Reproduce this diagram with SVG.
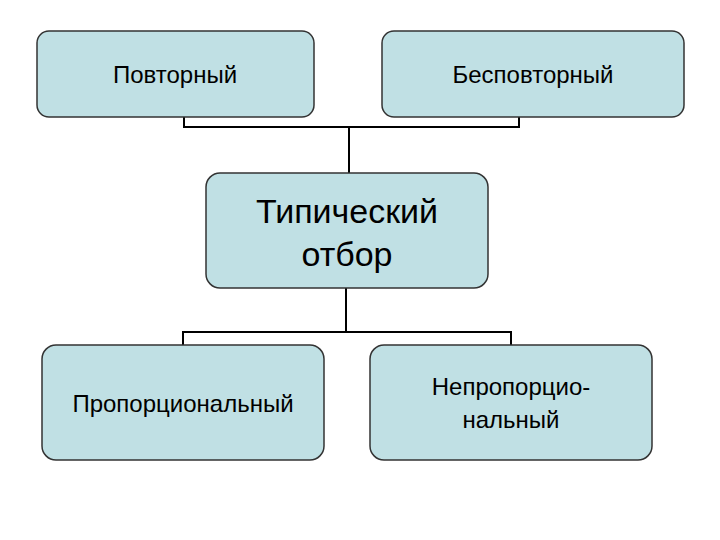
<svg xmlns="http://www.w3.org/2000/svg" width="720" height="540" viewBox="0 0 720 540">
<style>
.b{fill:#c0e0e4;stroke:#333;stroke-width:1.5}
.t{font-family:"Liberation Sans",Arial,sans-serif;fill:#000;text-anchor:middle}
.c{fill:none;stroke:#000;stroke-width:2}
</style>
<rect width="720" height="540" fill="#fff"/>
<g id="connectors">
<path class="c" d="M184 117V127H519V117M349 127V173"/>
<path class="c" d="M346 288V332M183 345V332H511V345"/>
</g>
<g id="n1"><rect class="b" x="37" y="31" width="277" height="86" rx="12"/><text class="t" x="175" y="83" font-size="24">Повторный</text></g>
<g id="n2"><rect class="b" x="382" y="31" width="302" height="86" rx="12"/><text class="t" x="533" y="83" font-size="24">Бесповторный</text></g>
<g id="n3"><rect class="b" x="206" y="173" width="282" height="115" rx="14"/><text class="t" x="347" y="223" font-size="34">Типический</text><text class="t" x="347" y="266" font-size="34">отбор</text></g>
<g id="n4"><rect class="b" x="42" y="345" width="282" height="115" rx="14"/><text class="t" x="183" y="412" font-size="24">Пропорциональный</text></g>
<g id="n5"><rect class="b" x="370" y="345" width="282" height="115" rx="14"/><text class="t" x="511" y="395" font-size="24">Непропорцио-</text><text class="t" x="511" y="428" font-size="24">нальный</text></g>
</svg>
